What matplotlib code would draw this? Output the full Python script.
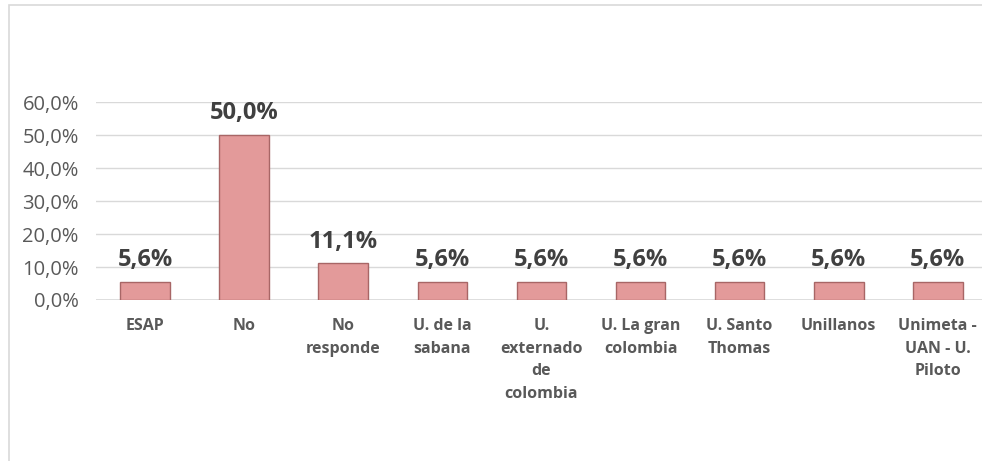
import matplotlib
matplotlib.use("Agg")
import matplotlib.pyplot as plt
from matplotlib.patches import Rectangle

categories = ["ESAP", "No", "No\nresponde", "U. de la\nsabana", "U.\nexternado\nde\ncolombia",
              "U. La gran\ncolombia", "U. Santo\nThomas", "Unillanos", "Unimeta -\nUAN - U.\nPiloto"]
values = [5.6, 50.0, 11.1, 5.6, 5.6, 5.6, 5.6, 5.6, 5.6]
yticks = [0, 10, 20, 30, 40, 50, 60]

W, H = 982, 461
fig = plt.figure(figsize=(W/100, H/100), dpi=100)
fig.patch.set_facecolor("white")
fig.patches.append(Rectangle((9/W, -0.1), 1.2, (461-5)/H + 0.1, transform=fig.transFigure,
                             fill=False, edgecolor="#D9D9D9", linewidth=1.2))

left, right = 95.5, 982
top, bottom = 102, 300
ax = fig.add_axes([left/W, 1-bottom/H, (right-left)/W, (bottom-top)/H])
x = list(range(len(categories)))
ax.bar(x, values, width=0.5, color="#E39A9A", edgecolor="#A86666", linewidth=1.0, zorder=3)
ax.set_xlim(-0.5, -0.5 + (right-left)/99.1)
ax.set_ylim(0, 60)
ax.set_yticks(yticks)
ax.set_yticklabels([f"{v:.1f}%".replace(".", ",") for v in yticks],
                   fontsize=14.5, color="#595959", family="Open Sans")
ax.yaxis.grid(True, color="#D9D9D9", linewidth=1.0, zorder=0)
ax.tick_params(axis="y", length=0, pad=12)
ax.tick_params(axis="x", length=0, pad=13)
ax.set_xticks(x)
ax.set_xticklabels(categories, fontsize=11.5, fontweight="bold", color="#595959",
                   family="Open Sans", linespacing=1.55, va="top")
for s in ax.spines.values():
    s.set_visible(False)
ax.axhline(0, color="#D9D9D9", linewidth=1.2, zorder=2)

for xi, v in zip(x, values):
    ax.annotate(f"{v:.1f}%".replace(".", ","), (xi, v), xytext=(0, 7), textcoords="offset points",
                ha="center", va="bottom", fontsize=17, fontweight="bold", color="#404040",
                family="Open Sans", annotation_clip=False)

fig.savefig("out.png", dpi=100)
